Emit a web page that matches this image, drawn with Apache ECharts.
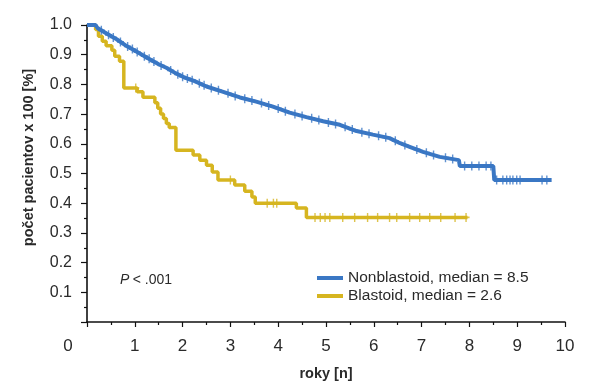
<!DOCTYPE html>
<html><head><meta charset="utf-8">
<script src="https://cdn.jsdelivr.net/npm/echarts@6/dist/echarts.min.js"></script>
<style>html,body{margin:0;padding:0;background:#fff}#c{width:600px;height:391px}</style>
</head><body><div id="c"></div>
<script>
// ---- data ----
const seriesNames = ['Nonblastoid, median = 8.5', 'Blastoid, median = 2.6'];
const xTickValues = [0,1,2,3,4,5,6,7,8,9,10];
const yTickValues = [0.1,0.2,0.3,0.4,0.5,0.6,0.7,0.8,0.9,1.0];

// Nonblastoid survival curve (vertices)
const nonblastoidCurve = [
  [0,1.0],[0.18,1.0],[0.22,0.99],[0.4,0.972],[0.62,0.952],[0.8,0.932],[0.98,0.916],
  [1.15,0.9],[1.33,0.883],[1.5,0.868],[1.67,0.855],[1.85,0.838],[2.03,0.824],[2.24,0.812],
  [2.5,0.793],[2.85,0.775],[3.2,0.756],[3.54,0.742],[3.89,0.725],[4.24,0.705],[4.59,0.69],
  [4.94,0.676],[5.29,0.664],[5.64,0.643],[5.98,0.631],[6.33,0.619],[6.55,0.602],[6.75,0.59],
  [7.03,0.573],[7.38,0.556],[7.78,0.545],[7.8,0.525],[8.5,0.525],[8.52,0.478],[9.72,0.478]
];
// Nonblastoid censor marks
const nonblastoidCensored = [
  [0.3,0.982],[0.45,0.967],[0.55,0.958],[0.7,0.943],[0.85,0.928],[0.95,0.919],[1.05,0.909],
  [1.2,0.895],[1.3,0.886],[1.4,0.877],[1.55,0.864],[1.75,0.847],[1.9,0.834],[2.0,0.826],
  [2.1,0.82],[2.2,0.814],[2.35,0.804],[2.45,0.797],[2.6,0.788],[2.75,0.78],[2.95,0.77],
  [3.1,0.761],[3.3,0.752],[3.45,0.746],[3.65,0.737],[3.8,0.729],[4.0,0.719],[4.15,0.71],
  [4.35,0.70],[4.5,0.694],[4.7,0.686],[4.85,0.68],[5.05,0.672],[5.2,0.667],[5.4,0.657],
  [5.55,0.648],[5.75,0.639],[5.9,0.634],[6.1,0.627],[6.25,0.622],[6.45,0.61],[6.65,0.596],
  [6.9,0.581],[7.1,0.57],[7.25,0.562],[7.5,0.553],[7.65,0.549],[7.9,0.525],[8.05,0.525],
  [8.2,0.525],[8.35,0.525],[8.45,0.525],[8.57,0.478],[8.70,0.478],[8.78,0.478],[8.85,0.478],
  [8.91,0.478],[8.99,0.478],[9.06,0.478],[9.52,0.478],[9.62,0.478]
];
// Blastoid step curve: [time, survival after step]
const blastoidCurve = [
  [0,1.0],[0.18,0.985],[0.24,0.962],[0.32,0.945],[0.40,0.93],[0.52,0.915],[0.58,0.895],
  [0.68,0.878],[0.77,0.788],[1.05,0.775],[1.17,0.757],[1.42,0.738],[1.48,0.72],[1.54,0.70],
  [1.6,0.685],[1.66,0.668],[1.72,0.655],[1.86,0.578],[2.22,0.562],[2.36,0.545],[2.50,0.528],
  [2.62,0.505],[2.74,0.478],[3.09,0.461],[3.30,0.44],[3.45,0.421],[3.52,0.40],[4.38,0.384],
  [4.59,0.352],[7.96,0.352]
];
// Blastoid censor marks
const blastoidCensored = [
  [1.02,0.788],[3.0,0.478],[3.77,0.40],[3.9,0.40],[3.97,0.40],
  [4.77,0.352],[4.88,0.352],[4.98,0.352],[5.08,0.352],[5.35,0.352],[5.6,0.352],[5.87,0.352],
  [6.08,0.352],[6.33,0.352],[6.48,0.352],[6.75,0.352],[6.96,0.352],[7.17,0.352],[7.4,0.352],
  [7.7,0.352],[7.93,0.352]
];
const annotationText = '< .001';

// ---- chart ----
const BLUE = '#3a77c4', GOLD = '#d6b520', TXT = '#2a2a2a';
const FONT = '"Liberation Sans", Arial, sans-serif';
const plus = 'path://M4,0H6V4H10V6H6V10H4V6H0V4H4Z';
const chart = echarts.init(document.getElementById('c'), null, {renderer: 'canvas'});
chart.setOption({
  animation: false,
  textStyle: {fontFamily: FONT},
  grid: {left: 87, right: 35, top: 25, bottom: 69, containLabel: false},
  legend: {
    data: seriesNames, orient: 'vertical', left: 312, top: 265, itemGap: 2,
    icon: 'rect', itemWidth: 26, itemHeight: 4,
    textStyle: {fontSize: 15.5, color: TXT, fontFamily: FONT}
  },
  graphic: [{
    type: 'text', left: 120, top: 273,
    style: {
      text: '{p|P} {t|' + annotationText + '}',
      rich: {
        p: {fontStyle: 'italic', fontSize: 14, fill: TXT, fontFamily: FONT},
        t: {fontSize: 14, fill: TXT, fontFamily: FONT}
      }
    }
  }],
  xAxis: {
    type: 'value', min: 0, max: 10, interval: 1,
    name: 'roky [n]', nameLocation: 'middle', nameGap: 44,
    nameTextStyle: {fontWeight: 'bold', fontSize: 14.5, color: TXT},
    axisLine: {lineStyle: {color: '#111', width: 1.6}},
    axisTick: {show: true, length: 5, lineStyle: {color: '#111', width: 1.2}},
    minorTick: {show: true, splitNumber: 2, length: 3, lineStyle: {color: '#111', width: 1.2}},
    splitLine: {show: false},
    axisLabel: {
      fontSize: 17, color: TXT, margin: 16,
      formatter: v => xTickValues.indexOf(v) === 0 ? '{z|0}' : String(v),
      rich: {z: {fontSize: 17, color: TXT, padding: [0, 38, 0, 0]}}
    }
  },
  yAxis: {
    type: 'value', min: 0, max: 1, interval: 0.1,
    name: 'počet pacientov x 100 [%]', nameLocation: 'middle', nameGap: 51,
    nameTextStyle: {fontWeight: 'bold', fontSize: 14.5, color: TXT, padding: [0, 0, 0, 32]},
    axisLine: {show: true, lineStyle: {color: '#111', width: 1.6}},
    axisTick: {show: true, length: 6, lineStyle: {color: '#111', width: 1.2}},
    minorTick: {show: true, splitNumber: 2, length: 3, lineStyle: {color: '#111', width: 1.2}},
    splitLine: {show: false},
    axisLabel: {
      fontSize: 16, color: TXT, margin: 15,
      formatter: v => {
        const f = yTickValues.find(t => Math.abs(t - v) < 1e-6);
        return f === undefined ? '' : f.toFixed(1);
      }
    }
  },
  series: [
    {name: seriesNames[0], type: 'line', data: nonblastoidCurve, showSymbol: false,
     color: BLUE, lineStyle: {width: 4, color: BLUE}, z: 3},
    {name: seriesNames[1], type: 'line', step: 'end', data: blastoidCurve, showSymbol: false,
     color: GOLD, lineStyle: {width: 3.5, color: GOLD}, z: 2},
    {name: 'nb-cens', type: 'scatter', data: nonblastoidCensored, symbol: plus, symbolSize: [7, 9],
     itemStyle: {color: BLUE}, z: 4},
    {name: 'b-cens', type: 'scatter', data: blastoidCensored, symbol: plus, symbolSize: [7, 9],
     itemStyle: {color: GOLD}, z: 3}
  ]
});
</script></body></html>
